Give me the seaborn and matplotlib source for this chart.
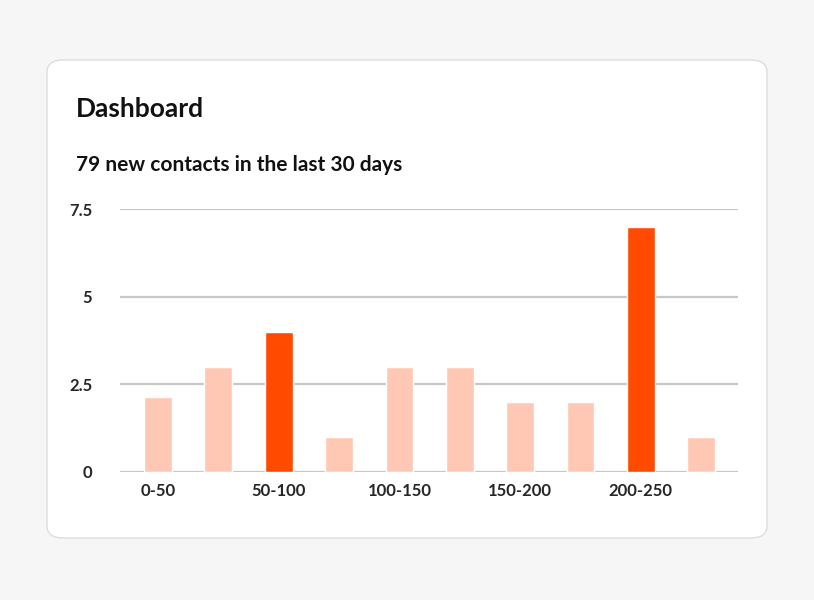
import matplotlib
matplotlib.use("Agg")
import matplotlib.pyplot as plt
from matplotlib.patches import FancyBboxPatch
import seaborn as sns
import pandas as pd

bins = ["b1","b2","b3","b4","b5","b6","b7","b8","b9","b10"]
values = [2.15, 3, 4, 1, 3, 3, 2, 2, 7, 1]
highlight = [False, False, True, False, False, False, False, False, True, False]
tick_labels = ["0-50", "50-100", "100-150", "150-200", "200-250"]
y_ticks = [0, 2.5, 5, 7.5]
y_tick_labels = ["0", "2.5", "5", "7.5"]

sns.set_style("white")
plt.rcParams['font.family'] = ['Lato', 'DejaVu Sans']

fig = plt.figure(figsize=(8.14, 6), dpi=100)
fig.patch.set_facecolor("#f6f6f6")
card = FancyBboxPatch((47/814, 1-538/600), 720/814, 478/600,
                      boxstyle="round,pad=0,rounding_size=0.02",
                      transform=fig.transFigure, facecolor="white",
                      edgecolor="#dddddd", linewidth=1, zorder=-5)
fig.patches.append(card)
fig.text(76/814, 1-109/600, "Dashboard", fontsize=19, fontweight="bold", va="center", color="#111111")
fig.text(76/814, 1-165/600, "79 new contacts in the last 30 days", fontsize=15, fontweight="bold", va="center", color="#111111")

ax = fig.add_axes([120/814, 1-472/600, 618/814, 263/600])
ax.set_zorder(5)
ax.set_facecolor("none")
df = pd.DataFrame({"bin": bins, "value": values,
                   "hl": ["hi" if h else "lo" for h in highlight]})
sns.barplot(data=df, x="bin", y="value", hue="hl",
            palette={"hi": "#FF4A00", "lo": "#FFC8B4"},
            width=0.46, dodge=False, legend=False, ax=ax, zorder=3, saturation=1)
ax.set_xlim(-0.63, 9.61)
ax.set_ylim(0, 7.5)
ax.set_yticks(y_ticks)
ax.set_yticklabels(y_tick_labels, fontsize=12, fontweight="bold")
ax.set_xticks([0, 2, 4, 6, 8])
ax.set_xticklabels(tick_labels, fontsize=12, fontweight="bold")
ax.tick_params(axis="both", length=0, pad=8)
ax.tick_params(axis="y", pad=20)
ax.set_axisbelow(True)
ax.grid(axis="y", color="#c8c8c8", linewidth=1.6)
ax.grid(axis="x", visible=False)
for s in ax.spines.values():
    s.set_visible(False)
ax.set_xlabel("")
ax.set_ylabel("")
fig.savefig("out.png", dpi=100, facecolor=fig.get_facecolor())
